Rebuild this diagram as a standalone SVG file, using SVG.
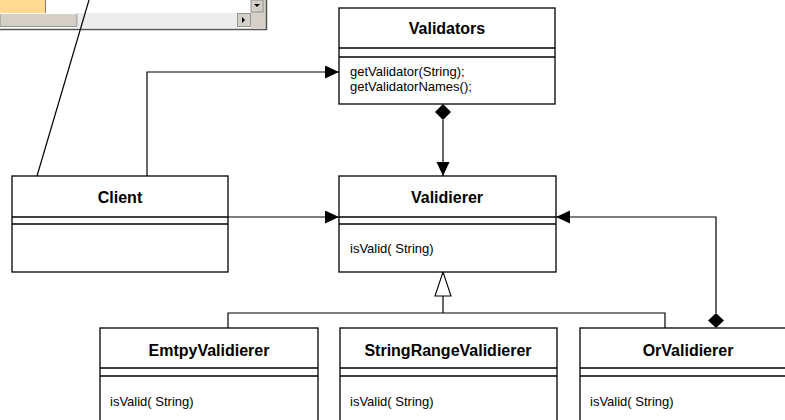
<svg xmlns="http://www.w3.org/2000/svg" width="785" height="420" viewBox="0 0 785 420">
<style>
.box{fill:#fff;stroke:#000;stroke-width:1.3}
.ln{stroke:#000;stroke-width:1.3;fill:none}
.title{font-family:"Liberation Sans",Arial,sans-serif;font-weight:bold;font-size:16px;text-anchor:middle;fill:#000}
.mem{font-family:"Liberation Sans",Arial,sans-serif;font-size:13px;fill:#000}
.con{stroke:#000;stroke-width:1.2;fill:none}
</style>
<defs>
<marker id="arr" markerUnits="userSpaceOnUse" markerWidth="16" markerHeight="14" refX="14" refY="6.5" orient="auto">
<path d="M0,0 L14,6.5 L0,13 Z" fill="#000"/>
</marker>
</defs>
<rect width="785" height="420" fill="#fff"/>
<g id="window">
<rect x="0" y="0" width="45" height="13" fill="#ffd990"/>
<line x1="45.5" y1="0" x2="45.5" y2="13" stroke="#7a7a7a"/>
<rect x="46" y="0" width="205" height="13" fill="#fff"/>
<rect x="251" y="0" width="15" height="28" fill="#d4d0c8"/>
<rect x="251" y="0" width="12" height="12" fill="#d4d0c8" stroke="#808080" stroke-width="0.8"/>
<path d="M254,4 L260,4 L257,7 Z" fill="#000"/>
<rect x="78" y="13" width="159" height="15" fill="#ececec"/>
<rect x="0" y="13.5" width="77" height="13" fill="#d4d0c8" stroke="#808080" stroke-width="0.8"/>
<line x1="0" y1="13.5" x2="77" y2="13.5" stroke="#fff"/>
<rect x="237.5" y="13.5" width="13" height="13" fill="#d4d0c8" stroke="#808080" stroke-width="0.8"/>
<path d="M242,17 L245,20 L242,23 Z" fill="#000"/>
<line x1="0" y1="29.5" x2="267" y2="29.5" stroke="#555" stroke-width="1.5"/>
<line x1="266.5" y1="0" x2="266.5" y2="30" stroke="#555" stroke-width="1.5"/>
</g>
<g id="connectors">
<line class="con" x1="37" y1="176" x2="89" y2="0"/>
<path class="con" d="M147,176 V72 H339" marker-end="url(#arr)"/>
<polygon points="443,104 451,112 443,120 435,112" fill="#000"/>
<path class="con" d="M443,120 V176" marker-end="url(#arr)"/>
<path class="con" d="M228,217 H339" marker-end="url(#arr)"/>
<polygon points="716,313 724,320.5 716,328 708,320.5" fill="#000"/>
<path class="con" d="M716,313 V217 H556" marker-end="url(#arr)"/>
<polygon points="443,272 451,296 435,296" fill="#fff" stroke="#000" stroke-width="1.1"/>
<path class="con" d="M443,296 V313"/>
<path class="con" d="M228,328 V313 H665 V328"/>
</g>
<g id="Validators">
<rect class="box" x="339" y="8" width="216" height="96"/>
<line class="ln" x1="339" y1="48" x2="555" y2="48"/>
<line class="ln" x1="339" y1="57" x2="555" y2="57"/>
<text class="title" x="447" y="34">Validators</text>
<text class="mem" x="350" y="76">getValidator(String);</text>
<text class="mem" x="350" y="91">getValidatorNames();</text>
</g>
<g id="Client">
<rect class="box" x="12" y="176" width="216" height="96"/>
<line class="ln" x1="12" y1="217" x2="228" y2="217"/>
<line class="ln" x1="12" y1="224" x2="228" y2="224"/>
<text class="title" x="120" y="203">Client</text>
</g>
<g id="Validierer">
<rect class="box" x="339" y="176" width="217" height="96"/>
<line class="ln" x1="339" y1="217" x2="556" y2="217"/>
<line class="ln" x1="339" y1="224" x2="556" y2="224"/>
<text class="title" x="447" y="203">Validierer</text>
<text class="mem" x="350" y="253">isValid( String)</text>
</g>
<g id="EmtpyValidierer">
<rect class="box" x="100" y="328" width="218" height="100"/>
<line class="ln" x1="100" y1="368" x2="318" y2="368"/>
<line class="ln" x1="100" y1="376" x2="318" y2="376"/>
<text class="title" x="209" y="356">EmtpyValidierer</text>
<text class="mem" x="110" y="406">isValid( String)</text>
</g>
<g id="StringRangeValidierer">
<rect class="box" x="340" y="328" width="217" height="100"/>
<line class="ln" x1="340" y1="368" x2="557" y2="368"/>
<line class="ln" x1="340" y1="376" x2="557" y2="376"/>
<text class="title" x="448" y="356">StringRangeValidierer</text>
<text class="mem" x="350" y="406">isValid( String)</text>
</g>
<g id="OrValidierer">
<rect class="box" x="580" y="328" width="217" height="100"/>
<line class="ln" x1="580" y1="368" x2="797" y2="368"/>
<line class="ln" x1="580" y1="376" x2="797" y2="376"/>
<text class="title" x="688" y="356">OrValidierer</text>
<text class="mem" x="590" y="406">isValid( String)</text>
</g>
</svg>
